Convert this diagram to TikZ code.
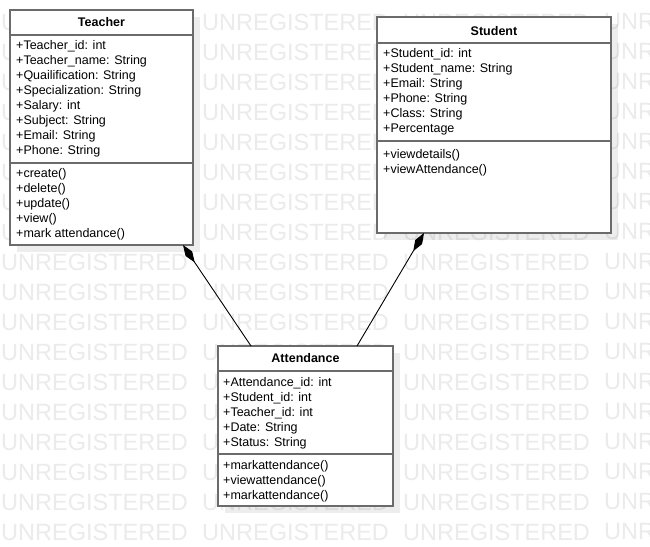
\documentclass[tikz,border=0pt]{standalone}
\usepackage{fontspec}
\setmainfont{Liberation Sans}
\usetikzlibrary{arrows.meta,shadows}

\tikzset{
  wmark/.style={anchor=west, inner sep=0pt, text=black!8, font=\fontsize{23.5}{28}\selectfont},
  classbox/.style={draw=black!58, line width=1.6pt, fill=white, inner sep=0pt, outer sep=0pt,
    drop shadow={shadow xshift=7pt, shadow yshift=-7pt, fill=black, opacity=0.07}},
  divider/.style={draw=black!58, line width=1.6pt},
  classtitle/.style={font=\bfseries\fontsize{12.5}{15}\selectfont, inner sep=0pt, text height=10pt, text depth=2pt},
  classitem/.style={anchor=west, font=\fontsize{12.5}{15}\selectfont, inner sep=0pt, text height=10pt, text depth=2pt},
  comp/.style={draw=black, line width=0.9pt, -{Diamond[length=21pt,width=8pt]}}
}

\begin{document}
\begin{tikzpicture}[x=1pt,y=-1pt]
\useasboundingbox (0,0) rectangle (650,546);
\fill[white] (0,0) rectangle (650,546);

% watermark
\foreach \r in {0,...,17} {
  \foreach \c/\w in {0/UNREGISTERED, 1/UNREGISTERED, 2/UNREGISTERED, 3/UNR} {
    \node[wmark] (wm\r-\c) at (\c*201+1, 22+30*\r) {\w};
  }
}

% Teacher
\node[classbox, minimum width=183pt, minimum height=235pt] (teacher) at (101.5,127.5) {};
\draw[divider] ([yshift=-25pt]teacher.north west) -- ([yshift=-25pt]teacher.north east);
\draw[divider] ([yshift=-153pt]teacher.north west) -- ([yshift=-153pt]teacher.north east);
\node[classtitle] (teachertitle) at (101.5,22) {Teacher};
\foreach \t [count=\i] in {+Teacher\_id: int, +Teacher\_name: String, +Quailification: String,
    +Specialization: String, +Salary: int, +Subject: String, +Email: String, +Phone: String}
  \node[classitem] (teacherattr\i) at (16, 30+15*\i) {\t};
\foreach \t [count=\i] in {+create(), +delete(), +update(), +view(), +mark attendance()}
  \node[classitem] (teacherop\i) at (16, 158+15*\i) {\t};

% Student
\node[classbox, minimum width=234pt, minimum height=216pt] (student) at (494,125) {};
\draw[divider] ([yshift=-26pt]student.north west) -- ([yshift=-26pt]student.north east);
\draw[divider] ([yshift=-124pt]student.north west) -- ([yshift=-124pt]student.north east);
\node[classtitle] (studenttitle) at (494,31) {Student};
\foreach \t [count=\i] in {+Student\_id: int, +Student\_name: String, +Email: String,
    +Phone: String, +Class: String, +Percentage}
  \node[classitem] (studentattr\i) at (383, 38+15*\i) {\t};
\foreach \t [count=\i] in {+viewdetails(), +viewAttendance()}
  \node[classitem] (studentop\i) at (383, 139+15*\i) {\t};

% Attendance
\node[classbox, minimum width=175pt, minimum height=160pt] (attendance) at (305.5,426) {};
\draw[divider] ([yshift=-25pt]attendance.north west) -- ([yshift=-25pt]attendance.north east);
\draw[divider] ([yshift=-108pt]attendance.north west) -- ([yshift=-108pt]attendance.north east);
\node[classtitle] (attendancetitle) at (305.5,358) {Attendance};
\foreach \t [count=\i] in {+Attendance\_id: int, +Student\_id: int, +Teacher\_id: int,
    +Date: String, +Status: String}
  \node[classitem] (attendanceattr\i) at (223, 367+15*\i) {\t};
\foreach \t [count=\i] in {+markattendance(), +viewattendance(), +markattendance()}
  \node[classitem] (attendanceop\i) at (223, 450+15*\i) {\t};

% compositions
\draw[comp] ([xshift=33pt]attendance.north west) -- ([xshift=-10pt]teacher.south east);
\draw[comp] ([xshift=-36pt]attendance.north east) -- ([xshift=47pt]student.south west);
\end{tikzpicture}
\end{document}
